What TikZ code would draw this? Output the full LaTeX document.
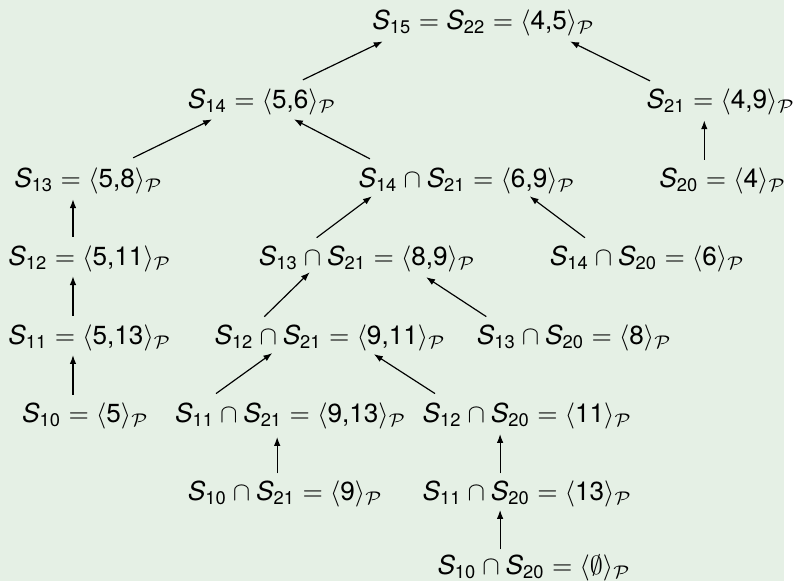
\documentclass[tikz,border=0pt]{standalone}
\usepackage{amsmath}
\usepackage{fontspec}
\setsansfont{TeX Gyre Heros}
\usetikzlibrary{arrows.meta, calc}

\definecolor{bgreen}{RGB}{229,240,229}

\newcommand{\Sv}[1]{\text{\itshape S}_{\text{#1}}}
\newcommand{\Pv}[1]{\langle \text{#1}\rangle_{\mathcal{P}}}

\begin{document}
\begin{tikzpicture}[
    x=0.377pt, y=-0.377pt,
    every node/.style={font=\sffamily},
    lbl/.style={anchor=base west, inner sep=0pt},
    arr/.style={-{Latex[length=3.4pt, width=2.5pt]}, black, line width=0.45pt},
  ]
  \fill[bgreen] (0,0) rectangle (795,589);

  % level 0 and 1
  \node[lbl] (s15) at (377,30) {$\Sv{15} = \Sv{22} = \Pv{4,5}$};
  \node[lbl] (s14) at (190,110) {$\Sv{14} = \Pv{5,6}$};
  \node[lbl] (s21) at (655,110) {$\Sv{21} = \Pv{4,9}$};

  % level 2
  \node[lbl] (s13) at (14,190) {$\Sv{13} = \Pv{5,8}$};
  \node[lbl] (s1421) at (363,190) {$\Sv{14} \cap \Sv{21} = \Pv{6,9}$};
  \node[lbl] (s20) at (668,190) {$\Sv{20} = \Pv{4}$};

  % level 3
  \node[lbl] (s12) at (8,269) {$\Sv{12} = \Pv{5,11}$};
  \node[lbl] (s1321) at (262,269) {$\Sv{13} \cap \Sv{21} = \Pv{8,9}$};
  \node[lbl] (s1420) at (557,269) {$\Sv{14} \cap \Sv{20} = \Pv{6}$};

  % level 4
  \node[lbl] (s11) at (8,349) {$\Sv{11} = \Pv{5,13}$};
  \node[lbl] (s1221) at (217,349) {$\Sv{12} \cap \Sv{21} = \Pv{9,11}$};
  \node[lbl] (s1320) at (483,349) {$\Sv{13} \cap \Sv{20} = \Pv{8}$};

  % level 5
  \node[lbl] (s10) at (22,428) {$\Sv{10} = \Pv{5}$};
  \node[lbl] (s1121) at (177,428) {$\Sv{11} \cap \Sv{21} = \Pv{9,13}$};
  \node[lbl] (s1220) at (428,428) {$\Sv{12} \cap \Sv{20} = \Pv{11}$};

  % level 6 and 7
  \node[lbl] (s1021) at (190,507) {$\Sv{10} \cap \Sv{21} = \Pv{9}$};
  \node[lbl] (s1120) at (428,507) {$\Sv{11} \cap \Sv{20} = \Pv{13}$};
  \node[lbl] (s1020) at (443,582) {$\Sv{10} \cap \Sv{20} = \langle\emptyset\rangle_{\mathcal{P}}$};

  % edges, child -> parent
  \draw[arr] ($(s14.base west)+(117,-29)$) -- ($(s15.base west)+(11,12)$);
  \draw[arr] ($(s21.base west)+(4,-28)$) -- ($(s15.base west)+(201,12)$);
  \draw[arr] ($(s20.base west)+(46,-28)$) -- ($(s21.base west)+(59,12)$);
  \draw[arr] ($(s13.base west)+(121,-30)$) -- ($(s14.base west)+(25,11)$);
  \draw[arr] ($(s1421.base west)+(12,-29)$) -- ($(s14.base west)+(108,11)$);
  \draw[arr] ($(s12.base west)+(66,-29)$) -- ($(s13.base west)+(60,12)$);
  \draw[arr] ($(s1321.base west)+(59,-28)$) -- ($(s1421.base west)+(14,9)$);
  \draw[arr] ($(s1420.base west)+(36,-28)$) -- ($(s1421.base west)+(174,9)$);
  \draw[arr] ($(s11.base west)+(66,-29)$) -- ($(s12.base west)+(66,11)$);
  \draw[arr] ($(s1221.base west)+(51,-28)$) -- ($(s1321.base west)+(52,7)$);
  \draw[arr] ($(s1320.base west)+(10,-28)$) -- ($(s1321.base west)+(170,12)$);
  \draw[arr] ($(s10.base west)+(52,-28)$) -- ($(s11.base west)+(66,11)$);
  \draw[arr] ($(s1121.base west)+(42,-29)$) -- ($(s1221.base west)+(59,9)$);
  \draw[arr] ($(s1220.base west)+(13,-29)$) -- ($(s1221.base west)+(162,10)$);
  \draw[arr] ($(s1021.base west)+(91,-27)$) -- ($(s1121.base west)+(104,15)$);
  \draw[arr] ($(s1120.base west)+(79,-27)$) -- ($(s1220.base west)+(79,12)$);
  \draw[arr] ($(s1020.base west)+(64,-25)$) -- ($(s1120.base west)+(79,10)$);
\end{tikzpicture}
\end{document}
